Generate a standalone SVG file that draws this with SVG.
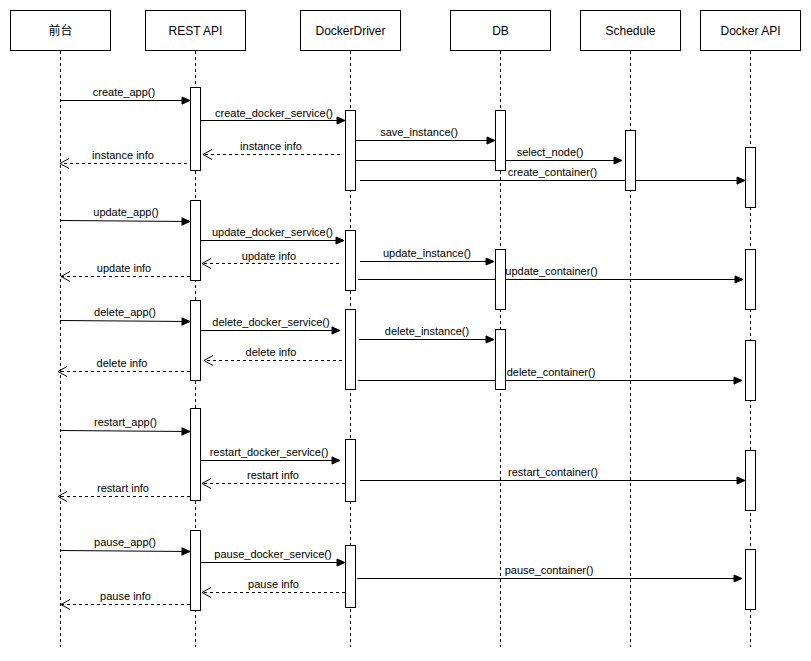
<svg xmlns="http://www.w3.org/2000/svg" width="811" height="661" viewBox="0 0 811 661">
<style>
.hdr{fill:#fff;stroke:#000;stroke-width:1}
.ht{font-family:"Liberation Sans","Noto Sans CJK SC",sans-serif;font-size:12px;text-anchor:middle;fill:#000}
.life{stroke:#000;stroke-width:1;stroke-dasharray:3 3;fill:none}
.act{fill:#fff;stroke:#000;stroke-width:1}
.msg{stroke:#000;stroke-width:1;fill:none;marker-end:url(#block)}
.ret{stroke:#000;stroke-width:1;fill:none;stroke-dasharray:3 3;marker-end:url(#open)}
.lb{font-family:"Liberation Sans",sans-serif;font-size:11px;text-anchor:middle;fill:#000}
</style>
<defs>
<marker id="block" markerUnits="userSpaceOnUse" markerWidth="10" markerHeight="10" viewBox="0 0 10 10" refX="9" refY="5" orient="auto" overflow="visible">
<path d="M1,1.5 L9,5 L1,8.5 Z" fill="#000" stroke="#000" stroke-width="1"/>
</marker>
<marker id="open" markerUnits="userSpaceOnUse" markerWidth="12" markerHeight="12" viewBox="0 0 12 12" refX="10" refY="6" orient="auto" overflow="visible">
<path d="M1,1 L10,6 L1,11" fill="none" stroke="#000" stroke-width="1"/>
</marker>
</defs>
<rect width="811" height="661" fill="#fff"/>
<g id="connectors">
<line class="msg" x1="60" y1="100.5" x2="190" y2="100.5"/>
<line class="msg" x1="200" y1="120.5" x2="345" y2="120.5"/>
<line class="ret" x1="340" y1="154.5" x2="203" y2="154.5"/>
<line class="ret" x1="187" y1="163.5" x2="60" y2="163.5"/>
<line class="msg" x1="355" y1="140.5" x2="495" y2="140.5"/>
<line class="msg" x1="355" y1="160.5" x2="622" y2="160.5"/>
<line class="msg" x1="360" y1="180.5" x2="745" y2="180.5"/>
<line class="msg" x1="60" y1="220.5" x2="190" y2="221.5"/>
<line class="msg" x1="200" y1="240.5" x2="344" y2="240.5"/>
<line class="ret" x1="339" y1="263.5" x2="202" y2="263.5"/>
<line class="ret" x1="190" y1="276.5" x2="61" y2="276.5"/>
<line class="msg" x1="360" y1="261.5" x2="494" y2="261.5"/>
<line class="msg" x1="358" y1="279.5" x2="743" y2="279.5"/>
<line class="msg" x1="60" y1="320.5" x2="190" y2="321.5"/>
<line class="msg" x1="200" y1="330.5" x2="340" y2="330.5"/>
<line class="ret" x1="342" y1="360.5" x2="204" y2="360.5"/>
<line class="ret" x1="190" y1="371.5" x2="58" y2="371.5"/>
<line class="msg" x1="359" y1="339.5" x2="494" y2="339.5"/>
<line class="msg" x1="358" y1="380.5" x2="742" y2="380.5"/>
<line class="msg" x1="60" y1="430.5" x2="190" y2="431.5"/>
<line class="msg" x1="200" y1="460.5" x2="340" y2="460.5"/>
<line class="ret" x1="345" y1="483.5" x2="202" y2="483.5"/>
<line class="ret" x1="190" y1="496.5" x2="58" y2="496.5"/>
<line class="msg" x1="360" y1="480.5" x2="745" y2="480.5"/>
<line class="msg" x1="60" y1="550.5" x2="190" y2="551.5"/>
<line class="msg" x1="200" y1="562.5" x2="345" y2="562.5"/>
<line class="ret" x1="345" y1="592.5" x2="202" y2="592.5"/>
<line class="ret" x1="190" y1="604.5" x2="61" y2="604.5"/>
<line class="msg" x1="357" y1="578.5" x2="742" y2="578.5"/>
<text class="lb" x="124" y="96">create_app()</text>
<text class="lb" x="274" y="116.5">create_docker_service()</text>
<text class="lb" x="271" y="150">instance info</text>
<text class="lb" x="123" y="159">instance info</text>
<text class="lb" x="419" y="135.5">save_instance()</text>
<text class="lb" x="550" y="156">select_node()</text>
<text class="lb" x="552.5" y="176">create_container()</text>
<text class="lb" x="126" y="216">update_app()</text>
<text class="lb" x="272.5" y="236">update_docker_service()</text>
<text class="lb" x="269" y="260">update info</text>
<text class="lb" x="124" y="272">update info</text>
<text class="lb" x="427" y="257">update_instance()</text>
<text class="lb" x="551.5" y="275">update_container()</text>
<text class="lb" x="125" y="316">delete_app()</text>
<text class="lb" x="271" y="326">delete_docker_service()</text>
<text class="lb" x="271" y="356">delete info</text>
<text class="lb" x="122" y="367">delete info</text>
<text class="lb" x="427" y="335">delete_instance()</text>
<text class="lb" x="551" y="376">delete_container()</text>
<text class="lb" x="125.5" y="426">restart_app()</text>
<text class="lb" x="269" y="456">restart_docker_service()</text>
<text class="lb" x="273" y="479">restart info</text>
<text class="lb" x="123" y="492">restart info</text>
<text class="lb" x="553" y="476">restart_container()</text>
<text class="lb" x="125" y="546">pause_app()</text>
<text class="lb" x="273" y="558">pause_docker_service()</text>
<text class="lb" x="273.5" y="588">pause info</text>
<text class="lb" x="125.5" y="599.5">pause info</text>
<text class="lb" x="549" y="574">pause_container()</text>
</g>
<g id="frontend">
<rect class="hdr" x="10.5" y="10.5" width="100" height="40"/>
<text class="ht" x="60.5" y="35">前台</text>
<line class="life" x1="60.5" y1="51" x2="60.5" y2="647"/>
</g>
<g id="rest-api">
<rect class="hdr" x="145.5" y="10.5" width="100" height="40"/>
<text class="ht" x="195.5" y="35">REST API</text>
<line class="life" x1="195.5" y1="51" x2="195.5" y2="647"/>
<rect class="act" x="190.5" y="87.5" width="10" height="83"/>
<rect class="act" x="190.5" y="200.5" width="10" height="80"/>
<rect class="act" x="190.5" y="300.5" width="10" height="80"/>
<rect class="act" x="190.5" y="408.5" width="10" height="92"/>
<rect class="act" x="190.5" y="530.5" width="10" height="80"/>
</g>
<g id="docker-driver">
<rect class="hdr" x="300.5" y="10.5" width="100" height="40"/>
<text class="ht" x="350.5" y="35">DockerDriver</text>
<line class="life" x1="350.5" y1="51" x2="350.5" y2="647"/>
<rect class="act" x="345.5" y="110.5" width="10" height="80"/>
<rect class="act" x="345.5" y="230.5" width="10" height="60"/>
<rect class="act" x="345.5" y="309.5" width="10" height="80"/>
<rect class="act" x="345.5" y="439.5" width="10" height="62"/>
<rect class="act" x="345.5" y="545.5" width="10" height="62"/>
</g>
<g id="db">
<rect class="hdr" x="450.5" y="10.5" width="100" height="40"/>
<text class="ht" x="500.5" y="35">DB</text>
<line class="life" x1="500.5" y1="51" x2="500.5" y2="647"/>
<rect class="act" x="495.5" y="110.5" width="10" height="60"/>
<rect class="act" x="495.5" y="249.5" width="10" height="60"/>
<rect class="act" x="495.5" y="329.5" width="10" height="60"/>
</g>
<g id="schedule">
<rect class="hdr" x="580.5" y="10.5" width="100" height="40"/>
<text class="ht" x="630.5" y="35">Schedule</text>
<line class="life" x1="630.5" y1="51" x2="630.5" y2="647"/>
<rect class="act" x="625.5" y="130.5" width="10" height="60"/>
</g>
<g id="docker-api">
<rect class="hdr" x="700.5" y="10.5" width="100" height="40"/>
<text class="ht" x="750.5" y="35">Docker API</text>
<line class="life" x1="750.5" y1="51" x2="750.5" y2="647"/>
<rect class="act" x="745.5" y="147.5" width="10" height="60"/>
<rect class="act" x="745.5" y="249.5" width="10" height="60"/>
<rect class="act" x="745.5" y="340.5" width="10" height="60"/>
<rect class="act" x="745.5" y="450.5" width="10" height="60"/>
<rect class="act" x="745.5" y="549.5" width="10" height="60"/>
</g>
</svg>
